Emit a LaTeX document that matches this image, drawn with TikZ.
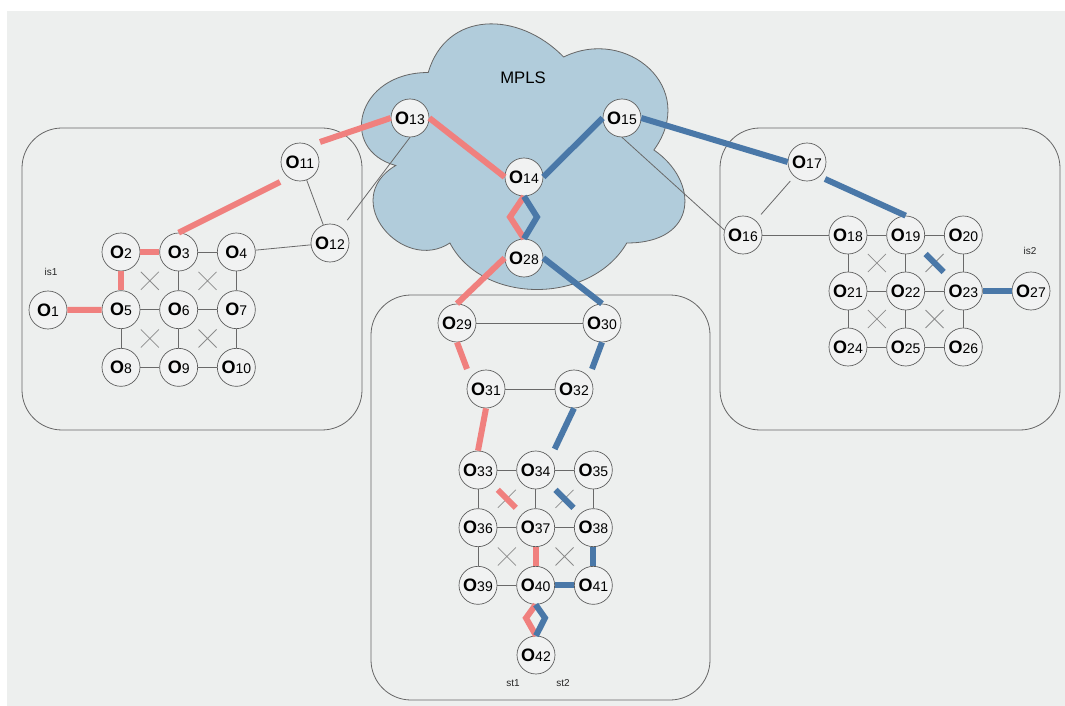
\documentclass[tikz,border=0pt]{standalone}
\usepackage{fontspec}
\setmainfont{Liberation Sans}
\usetikzlibrary{positioning, calc}
\definecolor{bgcol}{RGB}{237,239,238}
\definecolor{cloudcol}{RGB}{177,204,219}
\definecolor{pathred}{RGB}{240,128,126}
\definecolor{pathblue}{RGB}{74,120,168}
\definecolor{linkgray}{RGB}{105,105,105}
\definecolor{nodefill}{RGB}{241,242,242}
\newcommand{\onum}[1]{{\fontsize{13.5}{14}\selectfont\bfseries O}{\fontsize{10.5}{12}\selectfont #1}}
\tikzset{
  router/.style={circle, draw=black!65, fill=nodefill, minimum size=28.5pt,
                 inner sep=0pt, line width=0.5pt},
  link/.style={draw=linkgray, line width=0.6pt},
  cross/.style={draw=black!45, line width=0.6pt},
  redpath/.style={draw=pathred, line width=4.5pt},
  bluepath/.style={draw=pathblue, line width=4.5pt},
  site/.style={draw=black!60, rounded corners=30pt, line width=0.6pt},
  tag/.style={font=\fontsize{7.5}{9}\selectfont, text=black!85},
}
\newcommand{\cellx}[1]{\draw[cross] ($(#1)+(-9,-9)$) -- ($(#1)+(9,9)$)
  ($(#1)+(-9,9)$) -- ($(#1)+(9,-9)$);}
\begin{document}
\begin{tikzpicture}[x=0.75pt, y=-0.75pt, node distance=14.25pt]
  \useasboundingbox (0,0) rectangle (1065,706);
  \fill[bgcol] (7,11) rectangle (1065,706);

  % sites and cloud
  \draw[site] (22,128) rectangle (362,430);
  \draw[site] (720,128) rectangle (1060,430);
  \draw[site] (371,295) rectangle (710,700);
  \draw[fill=cloudcol, draw=black!60, line width=0.6pt] (428.25,72.5)
    .. controls (356.05,72.5) and (338,150) .. (395.76,165.5)
    .. controls (338,199.6) and (402.98,274) .. (449.91,243)
    .. controls (482.4,305) and (590.7,305) .. (626.8,243)
    .. controls (699,243) and (699,181) .. (653.9,150)
    .. controls (699,88) and (626.8,26) .. (563.6,57)
    .. controls (518.5,10.5) and (446.3,10.5) .. (428.25,72.5) -- cycle;
  \node[font=\fontsize{12.5}{14}\selectfont] (mpls) at (523,78) {MPLS};

  % left site
  \node[router] (o1) at (48,310) {\onum{1}};
  \node[router] (o2) at (121,252) {\onum{2}};
  \node[router, right=of o2] (o3) {\onum{3}};
  \node[router, right=of o3] (o4) {\onum{4}};
  \node[router, below=of o2] (o5) {\onum{5}};
  \node[router, right=of o5] (o6) {\onum{6}};
  \node[router, right=of o6] (o7) {\onum{7}};
  \node[router, below=of o5] (o8) {\onum{8}};
  \node[router, right=of o8] (o9) {\onum{9}};
  \node[router, right=of o9] (o10) {\onum{10}};
  \node[router] (o11) at (300,162) {\onum{11}};
  \node[router] (o12) at (330,243) {\onum{12}};
  \node[tag] (is1) at (51,272) {is1};

  % core
  \node[router] (o13) at (410,118) {\onum{13}};
  \node[router] (o14) at (524,177) {\onum{14}};
  \node[router] (o15) at (622,118) {\onum{15}};
  \node[router] (o28) at (524,258) {\onum{28}};

  % right site
  \node[router] (o16) at (743,235) {\onum{16}};
  \node[router] (o17) at (807,162) {\onum{17}};
  \node[router] (o18) at (848,235) {\onum{18}};
  \node[router, right=of o18] (o19) {\onum{19}};
  \node[router, right=of o19] (o20) {\onum{20}};
  \node[router, below=13pt of o18] (o21) {\onum{21}};
  \node[router, right=of o21] (o22) {\onum{22}};
  \node[router, right=of o22] (o23) {\onum{23}};
  \node[router, below=13pt of o21] (o24) {\onum{24}};
  \node[router, right=of o24] (o25) {\onum{25}};
  \node[router, right=of o25] (o26) {\onum{26}};
  \node[router] (o27) at (1031,291) {\onum{27}};
  \node[tag] (is2) at (1030,251) {is2};

  % bottom site
  \node[router] (o29) at (457,323) {\onum{29}};
  \node[router] (o30) at (602,323) {\onum{30}};
  \node[router] (o31) at (486,389) {\onum{31}};
  \node[router] (o32) at (574,389) {\onum{32}};
  \node[router] (o33) at (478,470) {\onum{33}};
  \node[router, right=of o33] (o34) {\onum{34}};
  \node[router, right=of o34] (o35) {\onum{35}};
  \node[router, below=of o33] (o36) {\onum{36}};
  \node[router, right=of o36] (o37) {\onum{37}};
  \node[router, right=of o37] (o38) {\onum{38}};
  \node[router, below=of o36] (o39) {\onum{39}};
  \node[router, right=of o39] (o40) {\onum{40}};
  \node[router, right=of o40] (o41) {\onum{41}};
  \node[router] (o42) at (536,655) {\onum{42}};
  \node[tag] (st1) at (513,683) {st1};
  \node[tag] (st2) at (563,683) {st2};

  % plain links
  \foreach \a/\b in {o3/o4, o3/o6, o4/o7, o5/o6, o6/o7, o5/o8, o6/o9, o7/o10,
                     o8/o9, o9/o10, o11/o12, o4/o12,
                     o16/o18, o18/o19, o19/o20, o18/o21, o19/o22, o20/o23,
                     o21/o22, o22/o23, o21/o24, o22/o25, o23/o26, o24/o25, o25/o26,
                     o29/o30, o31/o32, o33/o34, o34/o35, o33/o36, o34/o37,
                     o35/o38, o36/o37, o37/o38, o36/o39, o39/o40}
    \draw[link] (\a) -- (\b);
  \draw[link, shorten <=7pt] (o12) -- (o13.south);
  \draw[link] (o15.south) -- (o16.165);
  \draw[link, shorten <=6pt, shorten >=4.5pt] (o16) -- (o17);

  % cell crosses
  \coordinate (c1) at ($(o2)!0.5!(o6)$);   \coordinate (c2) at ($(o3)!0.5!(o7)$);
  \coordinate (c3) at ($(o5)!0.5!(o9)$);   \coordinate (c4) at ($(o6)!0.5!(o10)$);
  \coordinate (c5) at ($(o18)!0.5!(o22)$); \coordinate (c6) at ($(o19)!0.5!(o23)$);
  \coordinate (c7) at ($(o21)!0.5!(o25)$); \coordinate (c8) at ($(o22)!0.5!(o26)$);
  \coordinate (c9) at ($(o33)!0.5!(o37)$); \coordinate (c10) at ($(o34)!0.5!(o38)$);
  \coordinate (c11) at ($(o36)!0.5!(o40)$); \coordinate (c12) at ($(o37)!0.5!(o41)$);
  \foreach \c in {c1,c2,c3,c4,c5,c6,c7,c8,c9,c10,c11,c12} {\cellx{\c}}

  % red path
  \draw[redpath] (o1) -- (o5); \draw[redpath] (o5) -- (o2); \draw[redpath] (o2) -- (o3);
  \draw[redpath] (o3.north) -- ([shift={(-20,20)}]o11.center);
  \draw[redpath] ([shift={(20,-20)}]o11.center) -- (o13.west);
  \draw[redpath] (o13.east) -- (o14.west);
  \coordinate (zr1) at (510,217);
  \draw[redpath] (o14.south) -- (zr1) -- (o28.north);
  \draw[redpath] (o28.west) -- (o29.north);
  \draw[redpath] (o29.south) -- ([shift={(-19,-20)}]o31.center);
  \draw[redpath] (o31.south) -- (o33.north);
  \draw[redpath] ($(c9)+(-9,-9)$) -- ($(c9)+(9,9)$);
  \draw[redpath] (o37) -- (o40);
  \coordinate (zr2) at (526,618);
  \draw[redpath] (o40.south) -- (zr2) -- (o42.north);

  % blue path
  \draw[bluepath] (o15.west) -- (o14.east);
  \draw[bluepath] (o15.east) -- (o17.west);
  \draw[bluepath] ([shift={(18,17)}]o17.center) -- (o19.north);
  \draw[bluepath] ($(c6)+(-9,-9)$) -- ($(c6)+(9,9)$);
  \draw[bluepath] (o23) -- (o27);
  \coordinate (zb1) at (537,217);
  \draw[bluepath] (o14.south) -- (zb1) -- (o28.north);
  \draw[bluepath] (o28.east) -- (o30.north);
  \draw[bluepath] (o30.south) -- ([shift={(18,-20)}]o32.center);
  \draw[bluepath] (o32.south) -- ([shift={(19,-21)}]o34.center);
  \draw[bluepath] ($(c10)+(-9,-9)$) -- ($(c10)+(9,9)$);
  \draw[bluepath] (o38) -- (o41); \draw[bluepath] (o40) -- (o41);
  \coordinate (zb2) at (545,618);
  \draw[bluepath] (o40.south) -- (zb2) -- (o42.north);
\end{tikzpicture}
\end{document}
